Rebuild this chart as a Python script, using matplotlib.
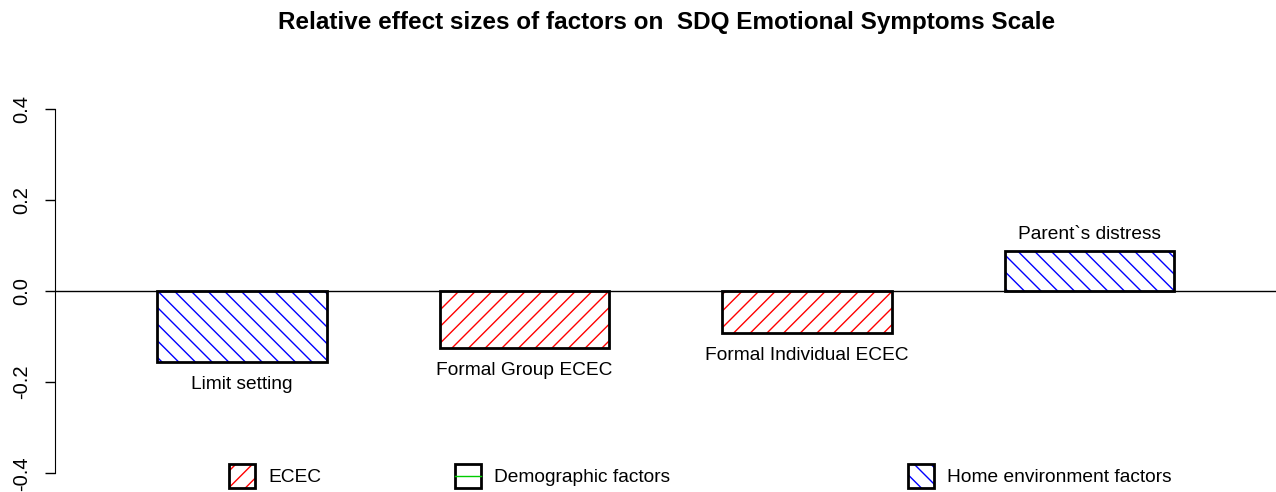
import matplotlib.pyplot as plt
from matplotlib.patches import Rectangle
from matplotlib.lines import Line2D

plt.rcParams['font.family'] = ['Liberation Sans', 'DejaVu Sans']
plt.rcParams['hatch.linewidth'] = 1.0

# data
factors = ['Limit setting', 'Formal Group ECEC', 'Formal Individual ECEC', 'Parent`s distress']
effects = [-0.156, -0.125, -0.092, 0.088]
groups = ['home', 'ecec', 'ecec', 'home']

group_style = {'ecec': ('red', '//'), 'home': ('blue', '\\\\')}

W, H = 1276, 492
fig = plt.figure(figsize=(W / 100, H / 100), dpi=100)
ax = fig.add_axes([55 / W, 4 / H, 1221 / W, 394 / H])

x = list(range(len(factors)))
w = 0.6
for xi, v, g in zip(x, effects, groups):
    col, hatch = group_style[g]
    ax.bar(xi, v, width=w, color='none', edgecolor=col, hatch=hatch, linewidth=0)
    ax.bar(xi, v, width=w, fill=False, edgecolor='black', linewidth=2)

ax.axhline(0, color='black', linewidth=1)

# labels beside bar ends
for xi, v, lab in zip(x, effects, factors):
    off = 11.5 if v > 0 else -16
    ax.annotate(lab, (xi, v), xytext=(0, off), textcoords='offset points',
                ha='center', va='center', fontsize=13.8)

ax.set_xlim(-0.661, 3.66)
ax.set_ylim(-0.432, 0.432)
ax.set_yticks([-0.4, -0.2, 0.0, 0.2, 0.4])
ax.set_yticklabels(['-0.4', '-0.2', '0.0', '0.2', '0.4'], rotation=90, va='center', fontsize=14.5)
ax.tick_params(axis='y', length=7, width=1, pad=10)
ax.spines['left'].set_bounds(-0.4, 0.4)
for s in ['top', 'right', 'bottom']:
    ax.spines[s].set_visible(False)
ax.set_xticks([])

fig.suptitle('Relative effect sizes of factors on  SDQ Emotional Symptoms Scale',
             x=667 / W, y=1 - 23 / H, va='center', fontsize=17.5, fontweight='bold')

# legend, drawn by hand in figure pixels
legend_items = [('ECEC', 'red', '//', None), ('Demographic factors', None, None, '#00cc00'),
                ('Home environment factors', 'blue', '\\\\', None)]
legend_x = [229, 455, 908]
for (lab, col, hatch, line), px in zip(legend_items, legend_x):
    bx, by, bw, bh = px / W, 1 - 488 / H, 26 / W, 24 / H
    if hatch:
        fig.add_artist(Rectangle((bx, by), bw, bh, transform=fig.transFigure,
                                 facecolor='none', edgecolor=col, hatch=hatch, linewidth=0))
    if line:
        fig.add_artist(Line2D([bx, bx + bw], [by + bh / 2, by + bh / 2],
                              transform=fig.transFigure, color=line, linewidth=1))
    fig.add_artist(Rectangle((bx, by), bw, bh, transform=fig.transFigure,
                             fill=False, edgecolor='black', linewidth=2))
    fig.text((px + 39) / W, 1 - 478 / H, lab, ha='left', va='center', fontsize=13.8)

fig.savefig('out.png', dpi=100)
